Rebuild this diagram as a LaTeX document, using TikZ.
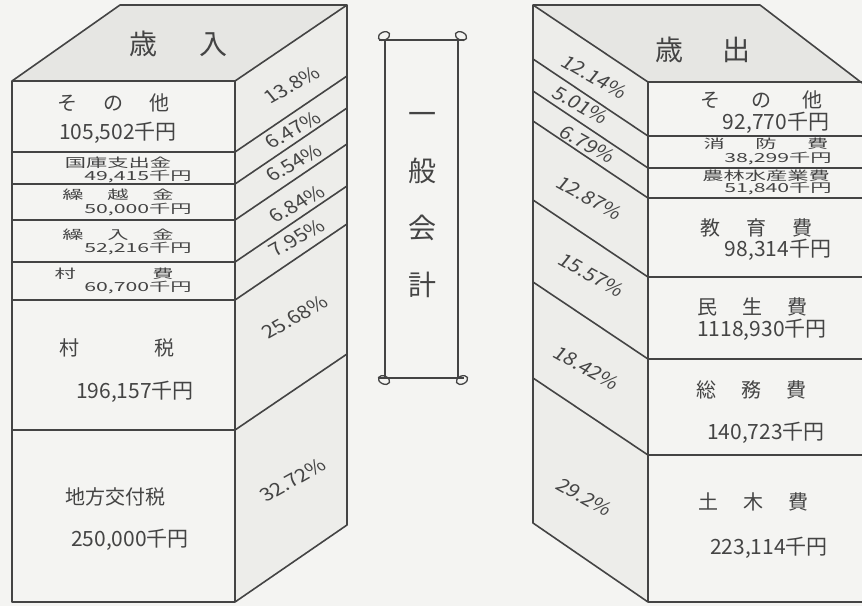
\documentclass[tikz,border=0pt]{standalone}
\usepackage{fontspec}
\setmainfont{Noto Sans CJK JP}
\usepackage{tikz}
\definecolor{ink}{HTML}{444444}
\definecolor{paper}{HTML}{F4F4F2}
\definecolor{topface}{HTML}{E6E6E3}
\definecolor{sideface}{HTML}{EDEDEA}
\tikzset{
    > = latex
}

\begin{document}
\begin{tikzpicture}[x=1pt, y=-1pt, line width=1.6pt, line join=round]
        \tikzstyle{ed}=[draw=ink]
        \tikzstyle{big}=[text=ink, inner sep=0pt, font=\fontsize{28}{30}\selectfont]
        \tikzstyle{lbl}=[text=ink, inner sep=0pt, font=\fontsize{20}{22}\selectfont]
        \tikzstyle{amt}=[text=ink, inner sep=0pt, font=\fontsize{21}{22}\selectfont]
        \tikzstyle{thin}=[text=ink, inner sep=0pt, xscale=1.7, font=\fontsize{12.5}{12.5}\selectfont]
        \tikzstyle{pct}=[text=ink, inner sep=0pt, xscale=1.2, font=\fontsize{18}{19}\selectfont]
        \fill[paper] (0,0) rectangle (862,606);
        \useasboundingbox (0,0) rectangle (862,606);
        % left block
        \fill[topface] (12,81) -- (120,5) -- (347,5) -- (235,81) -- cycle;
        \fill[sideface] (235,81) -- (347,5) -- (347,525) -- (235,602) -- cycle;
        \draw[ed] (12,602) -- (12,81) -- (120,5) -- (347,5) -- (347,525) -- (235,602) -- cycle;
        \draw[ed] (12,81) -- (235,81) -- (347,5);
        \draw[ed] (235,81) -- (235,602);
        \foreach \y in {152,184,220,262,300,430}
            \draw[ed] (12,\y) -- (235,\y) -- (347,\y-76);
        % right block
        \fill[topface] (533,5) -- (760,5) -- (862,83) -- (648,82) -- cycle;
        \fill[sideface] (533,5) -- (648,82) -- (648,602) -- (533,523) -- cycle;
        \draw[ed] (862,83) -- (760,5) -- (533,5) -- (533,523) -- (648,602) -- (862,602);
        \draw[ed] (533,5) -- (648,82) -- (862,82);
        \draw[ed] (648,82) -- (648,602);
        \foreach \y in {136,168,198,277,359,455}
            \draw[ed] (862,\y) -- (648,\y) -- (533,\y-77);
        % scroll
        \draw[ed, line width=1.4pt] (385,40) rectangle (458,378);
        \draw[ed, line width=1.4pt] (379,40) -- (464,40);
        \draw[ed, line width=1.4pt] (379,378) -- (464,378);
        \draw[ed, line width=1.3pt, rotate around={25:(384,36)}] (384,36) ellipse (6 and 4);
        \draw[ed, line width=1.3pt, rotate around={-25:(461,36)}] (461,36) ellipse (6 and 4);
        \draw[ed, line width=1.3pt, rotate around={-25:(384,380)}] (384,380) ellipse (6 and 4);
        \draw[ed, line width=1.3pt, rotate around={25:(462,380)}] (462,380) ellipse (6 and 4);
        \node[big, align=center, font=\fontsize{28}{57}\selectfont] (kaikei) at (422,205) {一\\般\\会\\計};
        % titles
        \node[big] (sainyu) at (178,44) {歳\hspace{42pt}入};
        \node[big] (saishutsu) at (703,50) {歳\hspace{39pt}出};
        % revenue labels
        \node[lbl] (in1n) at (113,103) {そ\hspace{26pt}の\hspace{26pt}他};
        \node[amt] (in1v) at (118,133) {105,502千円};
        \node[thin] (in2n) at (118,163) {国庫支出金};
        \node[thin] (in2v) at (138,177) {49,415千円};
        \node[thin] (in3n) at (118,195) {繰\hspace{14pt}越\hspace{14pt}金};
        \node[thin] (in3v) at (138,210) {50,000千円};
        \node[thin] (in4n) at (118,235) {繰\hspace{14pt}入\hspace{14pt}金};
        \node[thin] (in4v) at (138,249) {52,216千円};
        \node[thin] (in5n) at (114,274) {村\hspace{45pt}費};
        \node[thin] (in5v) at (138,288) {60,700千円};
        \node[lbl] (in6n) at (117,348) {村\hspace{75pt}税};
        \node[amt] (in6v) at (135,392) {196,157千円};
        \node[lbl] (in7n) at (115,497) {地方交付税};
        \node[amt] (in7v) at (130,540) {250,000千円};
        % revenue shares
        \node[pct, rotate=34] (in1p) at (292,85) {13.8\%};
        \node[pct, rotate=34] (in2p) at (293,130) {6.47\%};
        \node[pct, rotate=34] (in3p) at (294,163) {6.54\%};
        \node[pct, rotate=34] (in4p) at (297,204) {6.84\%};
        \node[pct, rotate=34] (in5p) at (297,238) {7.95\%};
        \node[pct, rotate=34] (in6p) at (295,317) {25.68\%};
        \node[pct, rotate=34] (in7p) at (293,480) {32.72\%};
        % expenditure labels
        \node[lbl] (out1n) at (761,100) {そ\hspace{31pt}の\hspace{31pt}他};
        \node[amt] (out1v) at (776,123) {92,770千円};
        \node[thin] (out2n) at (766,144) {消\hspace{18pt}防\hspace{18pt}費};
        \node[thin] (out2v) at (778,159) {38,299千円};
        \node[thin] (out3n) at (766,176) {農林水産業費};
        \node[thin] (out3v) at (778,189) {51,840千円};
        \node[lbl] (out4n) at (756,228) {教\hspace{26pt}育\hspace{26pt}費};
        \node[amt] (out4v) at (778,250) {98,314千円};
        \node[lbl] (out5n) at (752,307) {民\hspace{25pt}生\hspace{25pt}費};
        \node[amt] (out5v) at (762,330) {1118,930千円};
        \node[lbl] (out6n) at (751,390) {総\hspace{25pt}務\hspace{25pt}費};
        \node[amt] (out6v) at (766,433) {140,723千円};
        \node[lbl] (out7n) at (753,502) {土\hspace{25pt}木\hspace{25pt}費};
        \node[amt] (out7v) at (769,548) {223,114千円};
        % expenditure shares
        \node[pct, rotate=-34] (out1p) at (595,77) {12.14\%};
        \node[pct, rotate=-34] (out2p) at (581,105) {5.01\%};
        \node[pct, rotate=-34] (out3p) at (588,144) {6.79\%};
        \node[pct, rotate=-34] (out4p) at (590,198) {12.87\%};
        \node[pct, rotate=-34] (out5p) at (592,275) {15.57\%};
        \node[pct, rotate=-34] (out6p) at (587,368) {18.42\%};
        \node[pct, rotate=-34] (out7p) at (585,497) {29.2\%};
    \end{tikzpicture}
\end{document}
